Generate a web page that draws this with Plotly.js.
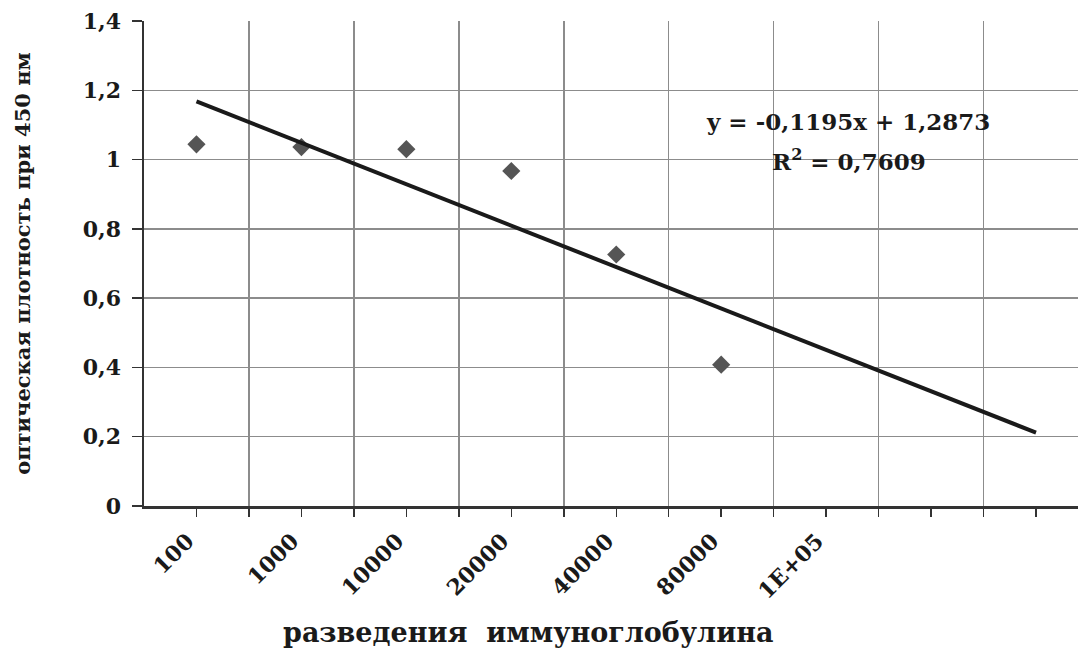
<!DOCTYPE html>
<html>
<head>
<meta charset="utf-8">
<script src="https://cdn.plot.ly/plotly-3.0.1.min.js"></script>
<style>html,body{margin:0;padding:0;overflow:hidden;background:#fff;}#chart{width:1078px;height:650px;}</style>
</head>
<body>
<div id="chart"></div>
<script>
// Data
const categories = ["100", "1000", "10000", "20000", "40000", "80000", "1E+05"];
const dilutions = ["100", "1000", "10000", "20000", "40000", "80000"];
const opticalDensity = [1.044, 1.036, 1.030, 0.967, 0.726, 0.408];
const trendSlope = -0.1195;
const trendIntercept = 1.2873;
const trendX = [1, 9];
const equationText = "y = -0,1195x + 1,2873";
const r2Text = "R<sup>2</sup> = 0,7609";

const pointX = dilutions.map(d => categories.indexOf(d) + 1);
const trendY = trendX.map(x => trendSlope * x + trendIntercept);
const labelPos = categories.map((c, i) => i + 1);

const serif = "DejaVu Serif, Liberation Serif, serif";
const tickFont = {family: serif, size: 22, color: "#1a1a1a", weight: "bold"};
const xrange = [0.5, 9.4];

const allTicks = [];
for (let v = 1; v <= 9; v++) allTicks.push(v);
const bounds = [];
for (let v = 1.5; v <= 9; v += 1) bounds.push(v);

const traces = [
  {
    type: "scatter", mode: "markers", x: pointX, y: opticalDensity,
    marker: {symbol: "diamond", size: 14, color: "#555555"},
    showlegend: false
  },
  {
    type: "scatter", mode: "lines", x: trendX, y: trendY,
    line: {color: "#1a1a1a", width: 4}, showlegend: false
  },
  {
    type: "scatter", mode: "markers", x: [], y: [], xaxis: "x2", yaxis: "y",
    showlegend: false, hoverinfo: "skip"
  }
];

const layout = {
  width: 1078, height: 650,
  margin: {l: 143.5, r: 0, t: 20.7, b: 144.3},
  paper_bgcolor: "#fff", plot_bgcolor: "#fff",
  separators: ", ",
  font: tickFont,
  xaxis: {
    range: xrange,
    tickmode: "array", tickvals: bounds, showticklabels: false,
    ticks: "outside", ticklen: 8, tickwidth: 1.5, tickcolor: "#333",
    showgrid: true, gridcolor: "#8c8c8c", gridwidth: 1.5, zeroline: false,
    showline: true, linecolor: "#333", linewidth: 2.5,
    minor: {tickmode: "array", tickvals: allTicks, ticks: "outside", ticklen: 8, tickwidth: 1.5, tickcolor: "#333", showgrid: false}
  },
  xaxis2: {
    overlaying: "x", anchor: "y", side: "bottom", range: xrange,
    tickmode: "array", tickvals: labelPos, ticktext: categories,
    tickangle: -45, tickfont: tickFont, ticks: "",
    ticklabelstandoff: 17, ticklabelshift: -9,
    showgrid: false, zeroline: false, showline: false
  },
  yaxis: {
    range: [0, 1.4], dtick: 0.2, tick0: 0,
    tickfont: tickFont,
    ticks: "outside", ticklen: 10, tickwidth: 1.5, tickcolor: "#333",
    ticklabelstandoff: 6,
    showgrid: true, gridcolor: "#8c8c8c", gridwidth: 1.5,
    zeroline: false, showline: true, linecolor: "#333", linewidth: 2.5,
    title: {text: "оптическая плотность при 450 нм", font: {family: serif, size: 21, color: "#1a1a1a", weight: "bold"}, standoff: 47}
  },
  annotations: [
    {xref: "paper", yref: "paper", x: (528 - 143.5) / 934.5, y: (505.7 - 632) / 485, text: "разведения&nbsp;&nbsp;иммуноглобулина",
     showarrow: false, font: {family: serif, size: 27, color: "#1a1a1a", weight: "bold"}, xanchor: "center", yanchor: "middle"},
    {xref: "paper", yref: "paper", x: (848 - 143.5) / 934.5, y: (505.7 - 121) / 485, text: equationText,
     showarrow: false, font: {family: serif, size: 23, color: "#1a1a1a", weight: "bold"}, xanchor: "center", yanchor: "middle"},
    {xref: "paper", yref: "paper", x: (849 - 143.5) / 934.5, y: (505.7 - 160) / 485, text: r2Text,
     showarrow: false, font: {family: serif, size: 23, color: "#1a1a1a", weight: "bold"}, xanchor: "center", yanchor: "middle"}
  ]
};

Plotly.newPlot("chart", traces, layout, {displayModeBar: false, staticPlot: true});
</script>
</body>
</html>
